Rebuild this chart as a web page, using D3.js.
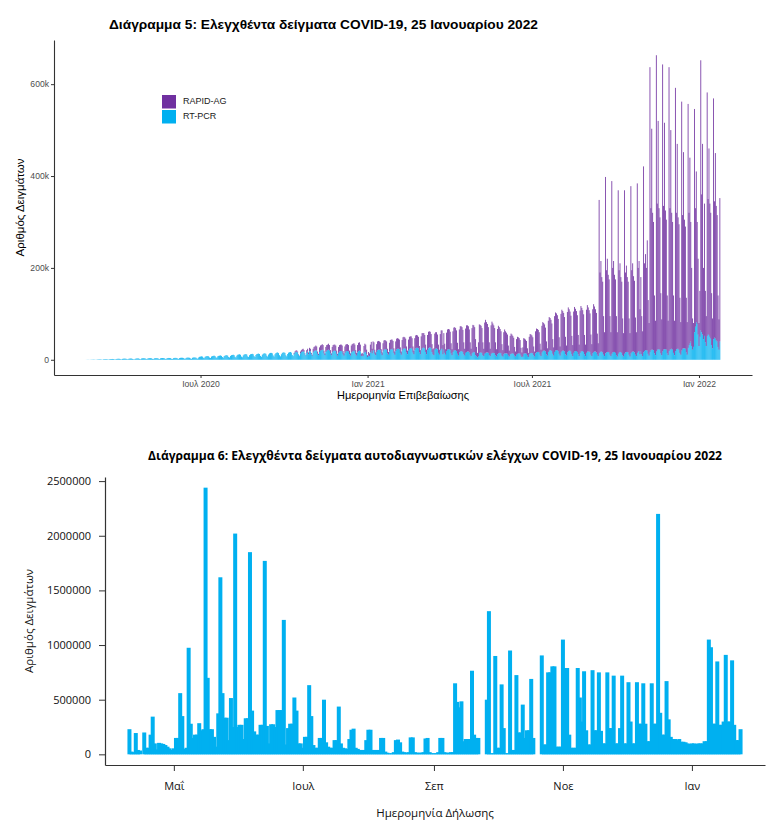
<!DOCTYPE html>
<html lang="el">
<head>
<meta charset="UTF-8" />
<title>Ελεγχθέντα δείγματα COVID-19</title>
<script src="https://d3js.org/d3.v7.min.js"></script>
<style>
  body { margin: 0; background: #fff; }
  svg { display: block; }
</style>
</head>
<body>
<svg width="774" height="837"></svg>
<script>
// ---- Διάγραμμα 5: daily samples (thousands), one line per week Mon..Sun ----
const pcrStart = "2020-02-26";
const pcr = [
  0.1,0.2,0.3,0.2,0.1,
  0.3,0.4,0.5,0.6,0.5,0.3,0.2,
  0.6,0.8,0.9,1.0,0.9,0.6,0.4,
  1.0,1.2,1.3,1.4,1.2,0.8,0.6,
  1.3,1.5,1.6,1.8,1.6,1.0,0.8,
  1.6,2.0,2.2,2.3,2.0,1.3,1.0,
  2.0,2.4,2.6,2.5,2.2,1.5,1.1,
  2.2,2.6,2.8,2.7,2.0,1.2,1.0,
  2.0,2.8,3.0,3.1,2.9,1.8,1.2,
  2.8,3.2,3.4,3.3,3.0,2.0,1.4,
  3.0,3.4,3.6,3.5,3.2,2.1,1.5,
  3.1,3.6,3.7,3.6,3.3,2.2,1.5,
  3.2,3.7,3.8,3.7,3.4,2.2,1.6,
  3.3,3.8,4.0,3.9,3.5,2.3,1.6,
  3.5,4.0,4.2,4.1,3.8,2.5,1.8,
  3.8,4.3,4.5,4.4,4.0,2.7,1.9,
  4.0,4.6,4.8,4.7,4.3,2.9,2.0,
  4.3,5.0,5.2,5.0,4.6,3.1,2.2,
  5,6.5,7,7.5,7,4.5,3.5,
  6.5,7.5,8,8,7.5,5,4,
  7,8,8.5,9,8,5.5,4,
  7.5,8.5,9,9.5,8.5,6,4.5,
  8,9,10,10,9,6,5,
  8.5,10,10.5,11,10,6.5,5,
  9,11,11.5,12,11,7,5.5,
  9.5,11.5,12,12.5,11.5,7.5,6,
  10,12,12.5,13,12,8,6,
  10.5,12.5,13,13.5,12.5,8.5,6.5,
  11,13,14,14,13,9,7,
  11.5,14,15,15,14,9.5,7,
  12,14.5,15.5,16,14.5,10,7.5,
  12,15,16,16,15,10,7.5,
  12.5,15.5,16.5,17,15.5,10.5,8,
  13,16,17,17.5,16,11,8,
  14,17,18,19,17,12,9,
  15,18,12,19,18,12,9,
  16,19,20,21,20,13,10,
  17,20,21,22,21,14,10,
  17,20,21,22,20,14,10,
  16,19,20,20,19,13,9,
  15,18,19,19,18,12,9,
  15,18,19,19,18,12,9,
  16,18,19,20,18,12,9,
  16,19,20,18,8,9,8,
  15,18,17,12,6,9,8,
  16,20,14,21,20,13,10,
  17,21,22,22,21,14,10,
  18,22,23,23,22,14,11,
  18,22,23,24,22,15,11,
  19,23,24,24,23,15,11,
  20,24,25,25,24,16,12,
  20,24,25,26,24,16,12,
  21,25,26,26,25,16,12,
  21,25,26,27,25,17,12,
  21,25,27,27,25,17,12,
  10,22,24,25,23,15,11,
  20,24,24,12,22,15,11,
  19,22,23,23,21,14,10,
  17,20,21,21,19,13,9,
  16,18,19,19,17,12,9,
  15,17,18,18,16,11,8,
  14,16,17,16,10,8,5,
  8,15,16,16,15,10,8,
  13,15,16,16,15,10,8,
  13,15,15,15,14,10,7,
  12,14,15,15,14,9,7,
  12,14,14,14,13,9,7,
  12,13,14,14,13,9,7,
  11,13,14,14,13,9,6,
  7,13,14,14,13,9,6,
  12,14,15,15,14,10,7,
  14,16,17,17,16,11,8,
  16,19,20,20,18,12,9,
  17,20,21,21,19,13,9,
  17,20,21,21,19,13,9,
  16,19,20,20,18,12,9,
  16,19,20,20,18,12,8,
  15,18,19,19,17,12,8,
  15,18,19,19,17,12,8,
  15,18,18,18,17,11,8,
  14,17,18,18,16,11,8,
  14,17,18,18,16,11,8,
  14,16,17,17,16,11,8,
  13,16,17,17,15,10,7,
  13,16,17,17,15,10,7,
  13,16,17,17,16,11,7,
  14,17,18,18,16,11,8,
  15,18,19,12,18,12,8,
  16,19,21,21,20,13,9,
  17,21,22,22,21,14,10,
  18,22,23,23,22,14,10,
  18,22,23,23,22,14,10,
  19,22,23,24,22,15,10,
  19,23,24,24,22,15,11,
  20,24,25,25,24,16,11,
  26,32,36,40,30,22,28,
  60,72,82,78,55,30,50,
  64,60,55,45,52,38,30,
  52,56,54,50,46,32,25,
  45,48,46,42,40,28,22,
  40
];

const rapidStart = "2020-10-12";
const rapid = [
  2,2,3,3,2,1,1,
  4,4,5,5,4,2,1,
  6,6,4,7,6,3,2,
  8,9,9,10,9,5,3,
  10,11,11,12,11,6,4,
  11,12,12,13,12,7,4,
  12,13,13,13,12,7,4,
  13,14,14,14,13,7,5,
  14,15,15,15,14,8,5,
  15,16,16,16,15,9,6,
  16,18,18,15,5,6,5,
  15,17,16,10,4,8,6,
  17,19,10,19,18,9,6,
  17,19,19,18,17,9,6,
  18,20,20,19,18,10,6,
  19,21,21,20,19,10,7,
  21,23,23,22,21,12,7,
  23,25,25,24,22,13,8,
  24,26,26,25,23,13,8,
  26,28,28,27,25,14,9,
  30,33,32,31,29,16,10,
  33,36,35,34,31,17,11,
  15,35,36,35,32,18,11,
  36,40,40,20,36,20,12,
  40,44,44,43,40,22,13,
  45,50,50,48,45,24,14,
  50,55,54,52,48,26,15,
  53,58,57,55,50,27,16,
  55,60,58,55,35,20,10,
  30,62,60,58,54,28,16,
  68,72,66,62,56,28,16,
  62,68,64,60,55,28,16,
  55,60,56,52,48,25,14,
  48,52,48,45,42,22,13,
  40,44,41,38,35,19,11,
  34,37,35,33,30,17,10,
  20,34,32,30,28,16,9,
  38,42,40,38,35,19,11,
  48,52,50,48,44,24,14,
  58,63,60,57,52,28,16,
  68,73,70,66,60,32,18,
  78,83,80,76,70,36,20,
  84,90,86,82,75,38,22,
  88,95,90,85,78,40,24,
  90,97,92,87,80,42,25,
  92,99,94,89,82,42,25,
  94,101,96,90,84,44,26,
  96,104,98,92,86,46,28,
  334,173,197,162,154,84,52,
  384,179,203,168,159,84,52,
  376,184,198,168,160,85,53,
  356,179,193,163,155,80,51,
  356,174,188,163,154,79,51,
  364,178,192,164,156,81,52,
  369,182,196,98,162,83,54,
  405,191,209,179,240,117,71,
  620,309,481,298,279,126,75,
  645,318,497,307,288,131,78,
  625,313,493,302,283,126,75,
  618,308,477,296,278,125,75,
  573,297,446,286,273,120,71,
  542,291,427,280,266,119,71,
  531,288,404,260,170,68,52,
  486,258,328,222,165,50,100,
  588,300,415,155,288,112,65,
  530,294,406,290,274,113,65,
  524,297,404,293,275,112,66,
  312
];

const seriesNames = ["RAPID-AG", "RT-PCR"];
const seriesColors = ["#7030A0", "#00B0F0"];
const chart1YTicks = [0, 200, 400, 600];
const chart1XTicks = ["2020-07-01", "2021-01-01", "2021-07-01", "2022-01-01"];
const chart1XLabels = ["Ιουλ 2020", "Ιαν 2021", "Ιουλ 2021", "Ιαν 2022"];

// ---- Διάγραμμα 6: daily self-tests (thousands) ----
const selfStart = "2021-04-10";
const selfTests = [
  230,25,20,195,40,35,0,200,60,60,
  180,345,100,45,105,100,95,85,70,55,
  40,55,150,150,560,350,50,60,975,280,
  150,180,180,285,220,230,2440,700,230,230,
  160,70,375,1620,560,335,335,130,515,250,
  2020,250,270,270,140,330,330,1850,400,210,
  180,180,270,270,1770,260,100,275,275,250,
  405,405,405,1230,90,240,280,280,520,400,
  100,100,60,160,160,633,350,85,60,60,
  150,150,500,110,70,60,60,130,130,437,
  100,60,55,50,140,225,235,60,50,40,
  40,40,130,225,225,40,40,40,40,150,
  150,25,15,10,10,20,130,135,110,25,
  20,15,20,155,155,20,15,15,15,20,
  145,150,20,10,10,10,20,150,150,20,
  15,15,20,20,650,480,430,485,120,140,
  140,140,765,180,150,150,0,0,0,500,
  1310,10,10,900,60,60,640,240,10,10,
  950,40,40,725,200,200,455,150,220,220,
  690,150,0,0,0,905,90,90,750,750,
  805,805,70,70,70,1050,790,790,180,60,
  60,60,790,520,300,760,220,90,90,770,
  220,220,750,215,100,100,750,240,240,720,
  100,100,240,720,100,100,660,300,100,100,
  660,280,280,650,280,120,120,650,280,280,
  2200,380,180,180,670,320,160,140,140,130,
  140,115,115,110,100,95,100,100,95,100,
  100,100,120,120,1050,980,280,280,850,270,
  270,300,910,300,300,860,270,130,130,230
];
const chart2YTicks = [0, 500, 1000, 1500, 2000, 2500];
const chart2XTicks = ["2021-05-01", "2021-07-01", "2021-09-01", "2021-11-01", "2022-01-01"];
const chart2XLabels = ["Μαΐ", "Ιουλ", "Σεπ", "Νοε", "Ιαν"];

const parse = d3.utcParse("%Y-%m-%d");
const DAY = 864e5;
const svg = d3.select("svg");
const arial = "'Liberation Sans', Arial, sans-serif";
const sans2 = "'Open Sans', 'Noto Sans', sans-serif";

// ================= Chart 1 =================
const p1 = { left: 54, right: 752, top: 40, bottom: 375 };
const t0 = parse(pcrStart);
const rapidOffset = d3.utcDay.count(t0, parse(rapidStart));
const data1 = pcr.map((v, i) => ({
  date: d3.utcDay.offset(t0, i),
  pcr: v,
  rapid: i >= rapidOffset ? rapid[i - rapidOffset] : 0
}));

const first1 = +data1[0].date, last1 = +data1[data1.length - 1].date;
const lo1 = first1 - 0.45 * DAY, hi1 = last1 + 0.45 * DAY, pad1 = (hi1 - lo1) * 0.05;
const x1 = d3.scaleUtc()
  .domain([new Date(lo1 - pad1), new Date(hi1 + pad1)])
  .range([p1.left, p1.right]);
const max1 = d3.max(data1, d => d.pcr + d.rapid);
const y1 = d3.scaleLinear()
  .domain([-0.05 * max1, 1.05 * max1])
  .range([p1.bottom, p1.top]);
const bw1 = (x1(new Date(first1 + DAY)) - x1(new Date(first1))) * 0.9;

svg.append("text")
  .attr("x", 109).attr("y", 29)
  .attr("textLength", 429).attr("lengthAdjust", "spacingAndGlyphs")
  .style("font-family", arial).style("font-weight", "bold").style("font-size", "12px")
  .text("Διάγραμμα 5: Ελεγχθέντα δείγματα COVID-19, 25 Ιανουαρίου 2022");

const g1 = svg.append("g");
g1.selectAll("rect.pcr")
  .data(data1)
  .enter().append("rect")
  .attr("class", "pcr")
  .attr("x", d => x1(d.date) - bw1 / 2)
  .attr("width", bw1)
  .attr("y", d => y1(d.pcr))
  .attr("height", d => y1(0) - y1(d.pcr))
  .attr("fill", seriesColors[1]);

g1.selectAll("rect.rapid")
  .data(data1.filter(d => d.rapid > 0))
  .enter().append("rect")
  .attr("class", "rapid")
  .attr("x", d => x1(d.date) - bw1 / 2)
  .attr("width", bw1)
  .attr("y", d => y1(d.pcr + d.rapid))
  .attr("height", d => y1(d.pcr) - y1(d.pcr + d.rapid))
  .attr("fill", seriesColors[0]);

// Y axis
const ya1 = svg.append("g")
  .attr("transform", `translate(${p1.left},0)`)
  .call(d3.axisLeft(y1).tickValues(chart1YTicks)
    .tickFormat(d => d === 0 ? "0" : d + "k")
    .tickSize(3).tickSizeOuter(0).tickPadding(2));

// X axis
const xa1 = svg.append("g")
  .attr("transform", `translate(0,${p1.bottom})`)
  .call(d3.axisBottom(x1).tickValues(chart1XTicks.map(parse))
    .tickFormat((d, i) => chart1XLabels[i])
    .tickSize(3).tickSizeOuter(0).tickPadding(2.5));

[ya1, xa1].forEach(a => {
  a.select(".domain").attr("stroke", "#333").attr("stroke-width", 1.1);
  a.selectAll(".tick line").attr("stroke", "#333");
  a.selectAll(".tick text").attr("fill", "#4d4d4d")
    .style("font-family", arial).style("font-size", "8.6px");
});

svg.append("text")
  .attr("x", (p1.left + p1.right) / 2).attr("y", 399)
  .attr("text-anchor", "middle")
  .style("font-family", arial).style("font-size", "11px")
  .text("Ημερομηνία Επιβεβαίωσης");

svg.append("text")
  .attr("transform", `translate(24,${(p1.top + p1.bottom) / 2}) rotate(-90)`)
  .attr("text-anchor", "middle")
  .style("font-family", arial).style("font-size", "11.5px")
  .text("Αριθμός Δειγμάτων");

// legend
const leg = svg.append("g").attr("transform", "translate(162,95)");
seriesNames.forEach((name, i) => {
  leg.append("rect").attr("x", 0).attr("y", i * 15).attr("width", 14).attr("height", 13.5)
    .attr("fill", seriesColors[i]);
  leg.append("text").attr("x", 21).attr("y", i * 15 + 7)
    .attr("dominant-baseline", "middle")
    .style("font-family", arial).style("font-size", "9px").attr("fill", "#1a1a1a")
    .text(name);
});

// ================= Chart 2 =================
const p2 = { left: 105, right: 765, top: 477, bottom: 765 };
const s0 = parse(selfStart);
const data2 = selfTests.map((v, i) => ({ date: d3.utcDay.offset(s0, i), value: v }));
const first2 = +data2[0].date, last2 = +data2[data2.length - 1].date;
const pad2 = (last2 - first2) * 0.04;
const x2 = d3.scaleUtc()
  .domain([new Date(first2 - pad2), new Date(last2 + pad2)])
  .range([p2.left, p2.right]);
const max2 = d3.max(data2, d => d.value);
const y2 = d3.scaleLinear()
  .domain([-0.04 * max2, 1.04 * max2])
  .range([p2.bottom, p2.top]);

svg.append("text")
  .attr("x", 148).attr("y", 460)
  .attr("textLength", 574).attr("lengthAdjust", "spacingAndGlyphs")
  .style("font-family", sans2).style("font-weight", "bold").style("font-size", "12px")
  .text("Διάγραμμα 6: Ελεγχθέντα δείγματα αυτοδιαγνωστικών ελέγχων COVID-19, 25 Ιανουαρίου 2022");

svg.append("g").selectAll("rect")
  .data(data2.filter(d => d.value > 0))
  .enter().append("rect")
  .attr("x", d => x2(d.date) - 2)
  .attr("width", 4)
  .attr("y", d => y2(d.value))
  .attr("height", d => y2(0) - y2(d.value))
  .attr("fill", seriesColors[1]);

const ya2 = svg.append("g")
  .attr("transform", `translate(${p2.left},0)`)
  .call(d3.axisLeft(y2).tickValues(chart2YTicks)
    .tickFormat(d => d3.format("d")(d * 1000))
    .tickSize(6).tickSizeOuter(0).tickPadding(8));

const xa2 = svg.append("g")
  .attr("transform", `translate(0,${p2.bottom})`)
  .call(d3.axisBottom(x2).tickValues(chart2XTicks.map(parse))
    .tickFormat((d, i) => chart2XLabels[i])
    .tickSize(6).tickSizeOuter(0).tickPadding(11));

[ya2, xa2].forEach(a => {
  a.select(".domain").attr("stroke", "#333").attr("stroke-width", 1.2);
  a.selectAll(".tick line").attr("stroke", "#333");
  a.selectAll(".tick text").attr("fill", "#111")
    .style("font-family", sans2).style("font-size", "11px");
});

svg.append("text")
  .attr("x", (p2.left + p2.right) / 2).attr("y", 817)
  .attr("text-anchor", "middle")
  .style("font-family", sans2).style("font-size", "11.5px").attr("fill", "#111")
  .text("Ημερομηνία Δήλωσης");

svg.append("text")
  .attr("transform", `translate(33,${(p2.top + p2.bottom) / 2}) rotate(-90)`)
  .attr("text-anchor", "middle")
  .style("font-family", sans2).style("font-size", "11.5px").attr("fill", "#111")
  .text("Αριθμός Δειγμάτων");
</script>
</body>
</html>
